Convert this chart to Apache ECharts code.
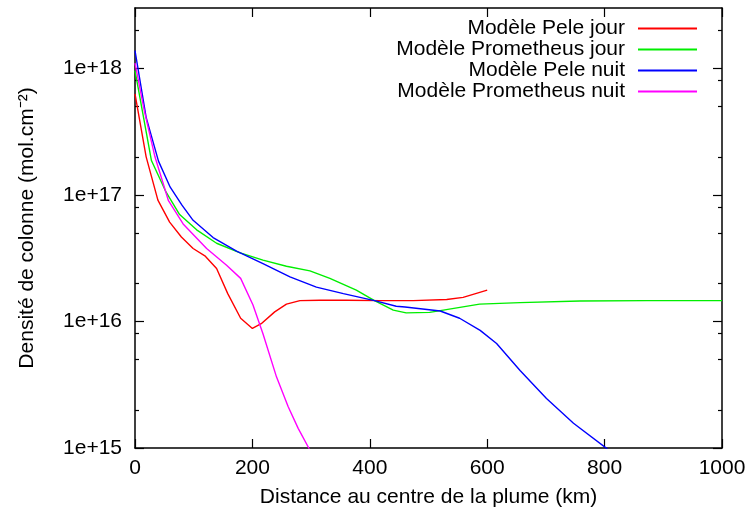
<!DOCTYPE html>
<html>
<head>
<meta charset="utf-8">
<script src="https://cdn.jsdelivr.net/npm/echarts@6/dist/echarts.min.js"></script>
<style>
  html, body { margin: 0; padding: 0; background: #fff; }
  #chart { width: 749px; height: 514px; }
</style>
</head>
<body>
<div id="chart"></div>
<script>
"use strict";

/* ── 数据：各模型柱密度随距离变化 ── */
const peleJourX  = [0, 19, 39, 59, 79, 99, 119, 139, 158, 180, 200, 215, 238, 258, 281, 315, 360, 417, 474, 531, 559, 600];
const peleJourY  = [6.3e17, 2.0e17, 9.1e16, 6.1e16, 4.65e16, 3.77e16, 3.3e16, 2.62e16, 1.66e16, 1.06e16, 8.8e15, 9.6e15,
                    1.19e16, 1.37e16, 1.46e16, 1.47e16, 1.47e16, 1.46e16, 1.46e16, 1.49e16, 1.55e16, 1.77e16];

const promJourX  = [0, 28, 53, 76, 105, 139, 178, 218, 258, 298, 332, 377, 408, 440, 462, 502, 587, 656, 758, 872, 1000];
const promJourY  = [9.6e17, 1.87e17, 1.05e17, 7.0e16, 5.3e16, 4.15e16, 3.5e16, 3.05e16, 2.73e16, 2.51e16, 2.19e16,
                    1.77e16, 1.46e16, 1.23e16, 1.17e16, 1.18e16, 1.37e16, 1.41e16, 1.45e16, 1.46e16, 1.46e16];

const peleNuitX  = [0, 19, 40, 60, 80, 99, 133, 173, 218, 264, 309, 355, 408, 445, 460, 520, 553, 588, 616, 656, 701, 747, 805];
const peleNuitY  = [1.38e18, 4.1e17, 1.85e17, 1.15e17, 8.3e16, 6.3e16, 4.6e16, 3.6e16, 2.87e16, 2.25e16, 1.87e16,
                    1.66e16, 1.46e16, 1.32e16, 1.30e16, 1.21e16, 1.06e16, 8.5e15, 6.7e15, 4.1e15, 2.46e15, 1.57e15, 9.8e14];

const promNuitX  = [0, 16, 34, 57, 82, 122, 156, 180, 201, 218, 241, 261, 278, 296, 300];
const promNuitY  = [1.1e18, 4.6e17, 2.0e17, 9.0e16, 5.9e16, 3.77e16, 2.78e16, 2.19e16, 1.35e16, 8.0e15, 3.65e15,
                    2.12e15, 1.43e15, 1.0e15, 9.2e14];

const SERIES_NAMES  = ["Modèle Pele jour", "Modèle Prometheus jour", "Modèle Pele nuit", "Modèle Prometheus nuit"];
const SERIES_COLORS = ["#ff0000", "#00ee00", "#0000ff", "#ff00ff"];

/* ── 坐标轴刻度 ── */
const X_MIN = 0, X_MAX = 1000, X_STEP = 200;
const Y_MIN = 1e15, Y_MAX = 3e18;
const Y_MAJOR  = [1e15, 1e16, 1e17, 1e18];
const Y_LABELS = ["1e+15", "1e+16", "1e+17", "1e+18"];
const Y_MINOR  = [2e15, 5e15, 8e15, 2e16, 5e16, 8e16, 2e17, 5e17, 8e17, 2e18];

const FONT = "'Liberation Sans', Arial, sans-serif";
const FS   = 21;

function pairs(xs, ys) { return xs.map((x, i) => [x, ys[i]]); }

function yAxisDef(position, values, len, withLine, withLabel) {
  return {
    type: "log", logBase: 10, min: Y_MIN, max: Y_MAX, position: position,
    axisLine: { show: withLine, lineStyle: { color: "#000", width: 1.5 } },
    axisTick: { show: true, inside: true, length: len, customValues: values, lineStyle: { color: "#000", width: 1.2 } },
    axisLabel: withLabel ? {
      show: true, customValues: Y_MAJOR, margin: 13,
      color: "#000", fontFamily: FONT, fontSize: FS,
      formatter: v => Y_LABELS[Y_MAJOR.findIndex(m => Math.abs(m - v) / m < 1e-6)] || ""
    } : { show: false },
    splitLine: { show: false }
  };
}

function renderChart() {
  const dom = document.getElementById("chart");
  const chart = echarts.init(dom);
  const all = [pairs(peleJourX, peleJourY), pairs(promJourX, promJourY), pairs(peleNuitX, peleNuitY), pairs(promNuitX, promNuitY)];

  const leftMain = yAxisDef("left", Y_MAJOR, 9, true, true);
  leftMain.name = "Densité de colonne (mol.cm⁻²)";
  leftMain.nameLocation = "middle";
  leftMain.nameGap = 97;
  leftMain.nameTextStyle = { color: "#000", fontFamily: FONT, fontSize: FS };

  chart.setOption({
    animation: false,
    backgroundColor: "#fff",
    textStyle: { fontFamily: FONT },
    grid: { left: 135, right: 27, top: 8, bottom: 66 },
    legend: {
      orient: "vertical", align: "right", right: 52, top: 18, padding: 0, itemGap: 0,
      icon: "rect", itemWidth: 59, itemHeight: 2,
      textStyle: { color: "#000", fontFamily: FONT, fontSize: FS, lineHeight: 21, padding: [0, 8, 0, 0] },
      data: SERIES_NAMES
    },
    xAxis: [
      {
        type: "value", min: X_MIN, max: X_MAX, interval: X_STEP, position: "bottom",
        name: "Distance au centre de la plume (km)", nameLocation: "middle", nameGap: 39,
        nameTextStyle: { color: "#000", fontFamily: FONT, fontSize: FS },
        axisLine: { lineStyle: { color: "#000", width: 1.5 } },
        axisTick: { inside: true, length: 9, lineStyle: { color: "#000", width: 1.2 } },
        axisLabel: { color: "#000", fontFamily: FONT, fontSize: FS, margin: 10, formatter: v => String(v) },
        splitLine: { show: false }
      },
      {
        type: "value", min: X_MIN, max: X_MAX, interval: X_STEP, position: "top",
        axisLine: { lineStyle: { color: "#000", width: 1.5 } },
        axisTick: { inside: true, length: 9, lineStyle: { color: "#000", width: 1.2 } },
        axisLabel: { show: false },
        splitLine: { show: false }
      }
    ],
    yAxis: [
      leftMain,
      yAxisDef("left", Y_MINOR, 4, false, false),
      yAxisDef("right", Y_MAJOR, 9, true, false),
      yAxisDef("right", Y_MINOR, 4, false, false)
    ],
    series: all.map((d, i) => ({
      name: SERIES_NAMES[i], type: "line", data: d,
      xAxisIndex: 0, yAxisIndex: 0,
      showSymbol: false, smooth: false, clip: true,
      lineStyle: { color: SERIES_COLORS[i], width: 1.4 },
      itemStyle: { color: SERIES_COLORS[i] }
    }))
  });
}

document.addEventListener("DOMContentLoaded", renderChart);
</script>
</body>
</html>
